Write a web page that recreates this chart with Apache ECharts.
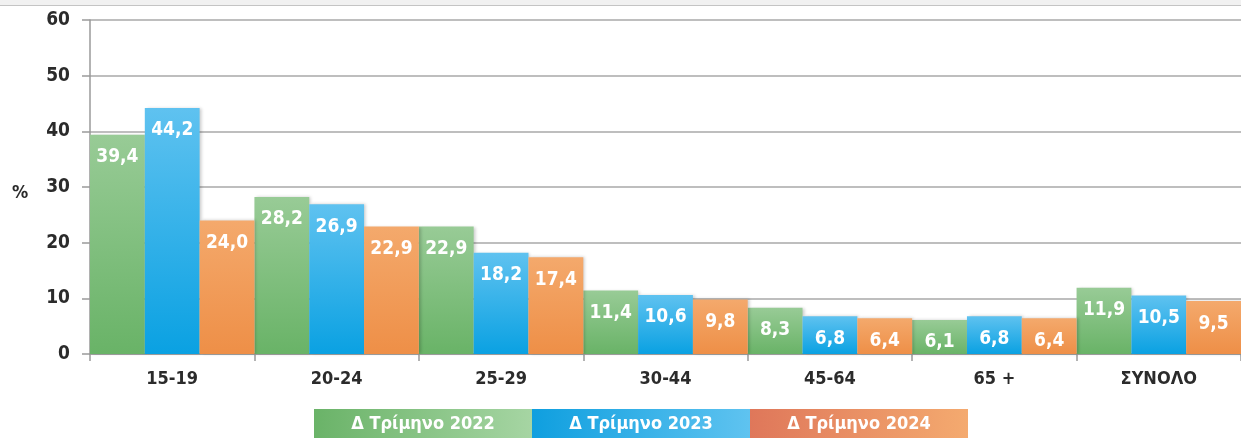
<!DOCTYPE html>
<html>
<head>
<meta charset="utf-8">
<script src="https://cdn.jsdelivr.net/npm/echarts@6/dist/echarts.min.js"></script>
<style>
  html, body { margin: 0; padding: 0; background: #fff; }
  #chart { width: 1241px; height: 439px; }
</style>
</head>
<body>
<div id="chart"></div>
<script>
const categories = ['15-19', '20-24', '25-29', '30-44', '45-64', '65 +', 'ΣΥΝΟΛΟ'];
const seriesNames = ['Δ Τρίμηνο 2022', 'Δ Τρίμηνο 2023', 'Δ Τρίμηνο 2024'];
const values2022 = [39.4, 28.2, 22.9, 11.4, 8.3, 6.1, 11.9];
const values2023 = [44.2, 26.9, 18.2, 10.6, 6.8, 6.8, 10.5];
const values2024 = [24.0, 22.9, 17.4, 9.8, 6.4, 6.4, 9.5];
const yTicks = [0, 10, 20, 30, 40, 50, 60];

const font = '"Liberation Sans Narrow", "DejaVu Sans Condensed", sans-serif';

// top->bottom gradient for bars, left->right for legend boxes
const barColors = [
  ['#98cb96', '#69b367'],
  ['#5fc2f0', '#0aa1e2'],
  ['#f4a96c', '#ee8f47']
];
const legendColors = [
  ['#6ab368', '#a6d5a3'],
  ['#0f9fdf', '#5fc3f0'],
  ['#df775a', '#f4aa6f']
];

const chart = echarts.init(document.getElementById('chart'));

const fmt = p => p.value.toFixed(1).replace('.', ',');

const series = [values2022, values2023, values2024].map((data, i) => ({
  name: seriesNames[i],
  type: 'bar',
  data: data,
  barGap: 0,
  barCategoryGap: 0,
  itemStyle: {
    color: new echarts.graphic.LinearGradient(0, 0, 0, 1, [
      { offset: 0, color: barColors[i][0] },
      { offset: 1, color: barColors[i][1] }
    ]),
    shadowColor: 'rgba(0,0,0,0.2)',
    shadowBlur: 3,
    shadowOffsetX: 2
  },
  label: {
    show: true,
    position: 'insideTop',
    distance: 13,
    formatter: fmt,
    color: '#fff',
    fontFamily: font,
    fontWeight: 'bold',
    fontSize: 19
  }
}));

// legend drawn as gradient boxes with names inside
const legendGraphics = [];
seriesNames.forEach((name, i) => {
  legendGraphics.push({
    type: 'rect',
    left: 314 + i * 218,
    top: 409,
    shape: { width: 218, height: 29 },
    style: {
      fill: new echarts.graphic.LinearGradient(0, 0, 1, 0, [
        { offset: 0, color: legendColors[i][0] },
        { offset: 1, color: legendColors[i][1] }
      ])
    }
  });
  legendGraphics.push({
    type: 'text',
    x: 314 + i * 218 + 109,
    y: 424,
    style: {
      text: name,
      fill: '#fff',
      font: 'bold 18px ' + font,
      align: 'center',
      verticalAlign: 'middle'
    }
  });
});

chart.setOption({
  animation: false,
  grid: { left: 90, top: 20, width: 1155, height: 334 },
  xAxis: {
    type: 'category',
    data: categories,
    axisLine: { lineStyle: { color: '#9a9a9a', width: 1.5 } },
    axisTick: { show: true, length: 7, lineStyle: { color: '#9a9a9a', width: 1.5 } },
    axisLabel: {
      margin: 16,
      color: '#2b2b2b',
      fontFamily: font,
      fontWeight: 'bold',
      fontSize: 18
    }
  },
  yAxis: {
    type: 'value',
    min: yTicks[0],
    max: yTicks[yTicks.length - 1],
    interval: 10,
    axisLine: { show: true, lineStyle: { color: '#9a9a9a', width: 1.5 } },
    axisTick: { show: true, length: 8, lineStyle: { color: '#9a9a9a', width: 1.5 } },
    splitLine: { lineStyle: { color: '#a8a8a8', width: 1.5 } },
    axisLabel: {
      margin: 20,
      color: '#2b2b2b',
      fontFamily: font,
      fontWeight: 'bold',
      fontSize: 19
    }
  },
  graphic: [
    { type: 'rect', left: 0, top: 0, shape: { width: 1241, height: 5 }, style: { fill: '#f1f1f1' } },
    { type: 'rect', left: 0, top: 5, shape: { width: 1241, height: 1 }, style: { fill: '#c4c4c4' } },
    {
      type: 'text', x: 20, y: 193,
      style: { text: '%', fill: '#2b2b2b', font: 'bold 18px ' + font, align: 'center', verticalAlign: 'middle' }
    }
  ].concat(legendGraphics),
  series: series
});
</script>
</body>
</html>
